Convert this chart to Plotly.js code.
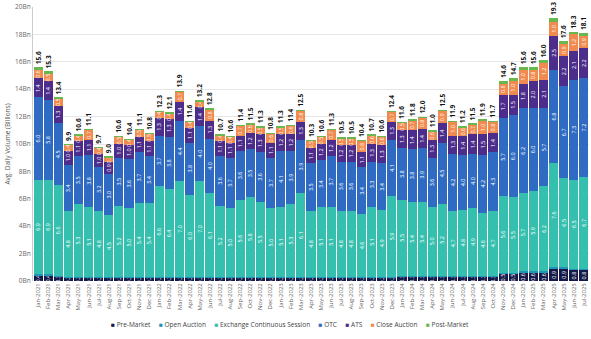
<!DOCTYPE html>
<html><head><meta charset="utf-8">
<script src="https://cdn.plot.ly/plotly-3.0.1.min.js"></script>
<style>html,body{margin:0;padding:0;background:#fff}#chart{width:591px;height:339px}</style>
</head><body><div id="chart"></div>
<script>
const months = ["Jan-2021","Feb-2021","Mar-2021","Apr-2021","May-2021","Jun-2021","Jul-2021","Aug-2021","Sep-2021","Oct-2021","Nov-2021","Dec-2021",
"Jan-2022","Feb-2022","Mar-2022","Apr-2022","May-2022","Jun-2022","Jul-2022","Aug-2022","Sep-2022","Oct-2022","Nov-2022","Dec-2022",
"Jan-2023","Feb-2023","Mar-2023","Apr-2023","May-2023","Jun-2023","Jul-2023","Aug-2023","Sep-2023","Oct-2023","Nov-2023","Dec-2023",
"Jan-2024","Feb-2024","Mar-2024","Apr-2024","May-2024","Jun-2024","Jul-2024","Aug-2024","Sep-2024","Oct-2024","Nov-2024","Dec-2024",
"Jan-2025","Feb-2025","Mar-2025","Apr-2025","May-2025","Jun-2025","Jul-2025"];

const totals = [15.6,15.3,13.4,9.9,10.6,11.1,9.7,9.0,10.6,10.4,11.1,10.8,
12.3,12.1,13.9,11.6,13.2,12.8,10.7,10.6,11.4,11.5,11.3,10.8,
11.3,11.4,12.5,10.3,10.6,11.3,10.5,10.5,10.4,10.7,10.6,12.4,
11.6,11.8,12.0,11.0,12.5,11.9,11.2,11.5,11.9,11.7,14.6,14.7,
15.6,15.6,16.0,19.3,17.6,18.3,18.1];

const preMarket = [0.4,0.4,0.3,0.2,0.2,0.2,0.2,0.2,0.2,0.2,0.2,0.2,
0.2,0.2,0.2,0.2,0.2,0.2,0.2,0.2,0.2,0.2,0.2,0.2,
0.2,0.2,0.2,0.2,0.2,0.2,0.2,0.2,0.2,0.2,0.2,0.2,
0.3,0.3,0.3,0.3,0.3,0.3,0.3,0.3,0.3,0.3,0.5,0.5,
0.6,0.6,0.6,0.9,0.9,0.8,0.8];

const openAuction = [0.1,0.1,0.1,0.1,0.1,0.1,0.1,0.1,0.1,0.1,0.1,0.1,
0.1,0.1,0.1,0.1,0.1,0.1,0.1,0.1,0.1,0.1,0.1,0.1,
0.1,0.1,0.1,0.1,0.1,0.1,0.1,0.1,0.1,0.1,0.1,0.1,
0.1,0.1,0.1,0.1,0.1,0.1,0.1,0.1,0.1,0.1,0.1,0.1,
0.1,0.1,0.1,0.1,0.1,0.1,0.1];

const exchangeContinuous = [6.9,6.9,6.6,4.8,5.3,5.1,4.8,4.5,5.2,5.0,5.4,5.4,
6.6,6.4,7.0,6.0,7.0,6.1,5.2,5.0,5.6,5.8,5.5,5.0,
5.1,5.3,6.1,4.8,5.1,5.1,4.8,4.8,4.6,5.1,4.9,5.9,
5.5,5.4,5.4,5.0,5.2,4.7,4.8,4.9,4.6,4.7,5.6,5.5,
5.7,5.9,6.2,7.6,6.5,6.5,6.7];

const otc = [6.0,5.8,4.5,3.4,3.5,3.8,3.2,3.0,3.5,3.6,3.7,3.4,
3.7,3.8,4.4,3.8,4.0,4.0,3.6,3.7,3.6,3.5,3.6,3.7,
4.1,3.9,3.9,3.5,3.4,3.7,3.6,3.6,3.4,3.3,3.4,4.1,
3.8,3.8,3.9,3.6,4.5,4.2,4.0,4.0,4.2,4.3,5.7,6.0,
6.2,6.0,5.7,6.8,6.7,7.3,7.2];

const ats = [1.4,1.4,1.3,1.0,1.1,1.1,1.0,0.9,1.0,1.0,1.1,1.1,
1.3,1.3,1.4,1.1,1.4,1.3,1.1,1.1,1.1,1.2,1.3,1.1,
1.2,1.2,1.3,1.1,1.2,1.2,1.2,1.2,1.1,1.3,1.3,1.3,
1.3,1.4,1.4,1.3,1.4,1.3,1.4,1.4,1.5,1.4,1.7,1.5,
1.8,2.0,2.1,2.5,2.2,2.1,2.2];

const closeAuction = [0.6,0.5,0.5,0.4,0.4,0.7,0.4,0.3,0.5,0.4,0.5,0.5,
0.4,0.4,0.7,0.4,0.4,0.8,0.4,0.4,0.7,0.6,0.5,0.6,
0.5,0.6,0.8,0.5,0.5,0.7,0.5,0.5,0.8,0.6,0.6,0.7,
0.5,0.7,0.8,0.6,0.9,1.0,0.6,0.7,1.0,0.8,0.8,1.0,
1.0,0.8,1.2,1.0,0.9,1.2,0.9];

const postMarket = [0.2,0.2,0.1,0.1,0.1,0.1,0.1,0.1,0.1,0.1,0.1,0.1,
0.1,0.1,0.1,0.1,0.1,0.1,0.1,0.1,0.1,0.1,0.1,0.1,
0.1,0.1,0.1,0.1,0.1,0.1,0.1,0.1,0.1,0.1,0.1,0.1,
0.1,0.1,0.1,0.1,0.1,0.1,0.1,0.1,0.1,0.1,0.2,0.2,
0.2,0.2,0.2,0.3,0.2,0.2,0.2];

const seriesNames = ['Pre-Market','Open Auction','Exchange Continuous Session','OTC','ATS','Close Auction','Post-Market'];
const seriesColors = ['#151a4a','#1e94b8','#35bfae','#2f6bc2','#4c2d8c','#f08a4e','#6ab64f'];

const FONT = 'Open Sans, Arial, sans-serif';
function seg(i, y, showText) {
  const t = {
    type: 'bar', name: seriesNames[i], x: months, y: y,
    marker: {color: seriesColors[i], line: {width: 0}},
    showlegend: false,
    hoverinfo: 'x+y+name'
  };
  if (showText) {
    t.text = y.map(v => v.toFixed(1));
    t.textposition = 'inside';
    t.insidetextanchor = 'middle';
    t.textangle = -90;
    t.constraintext = 'none';
    t.textfont = {family: FONT, size: 5.5, color: '#ffffff'};
  } else {
    t.textposition = 'none';
  }
  return t;
}

const traces = [
  seg(0, preMarket, true),
  seg(1, openAuction, false),
  seg(2, exchangeContinuous, true),
  seg(3, otc, true),
  seg(4, ats, true),
  seg(5, closeAuction, true),
];
const post = seg(6, postMarket, false);
post.text = totals.map(v => v.toFixed(1));
post.textposition = 'outside';
post.textangle = -90;
post.constraintext = 'none';
post.cliponaxis = false;
post.outsidetextfont = {family: FONT, size: 6.5, color: '#111', weight: 'bold'};
traces.push(post);

const legendText = seriesNames.map((n, i) =>
  `<span style="color:${seriesColors[i]}">■</span> ${n}`).join('&nbsp;&nbsp;&nbsp;&nbsp;&nbsp;');

const layout = {
  width: 591, height: 339,
  margin: {l: 33, r: 2, t: 7, b: 58},
  barmode: 'stack', bargap: 0.1,
  paper_bgcolor: '#fff', plot_bgcolor: '#fff',
  font: {family: FONT, size: 6.5, color: '#555'},
  xaxis: {type: 'category', tickangle: -90, tickfont: {size: 6, color: '#666'},
          showgrid: false, showline: false, ticks: '', automargin: false},
  yaxis: {range: [0, 20], dtick: 2, ticksuffix: 'Bn', tickfont: {size: 6.5, color: '#666'},
          gridcolor: '#e6e6e6', showline: true, linecolor: '#cccccc', zeroline: false,
          automargin: false,
          title: {text: 'Avg. Daily Volume (Billions)', font: {size: 6.5, color: '#555'}, standoff: 3}},
  showlegend: false,
  annotations: [{
    xref: 'paper', yref: 'paper', x: 0.462, y: -0.16, xanchor: 'center', yanchor: 'middle',
    showarrow: false, text: legendText, font: {family: FONT, size: 6.5, color: '#444'}
  }]
};

Plotly.newPlot('chart', traces, layout, {displayModeBar: false, staticPlot: true});
</script>
</body></html>
